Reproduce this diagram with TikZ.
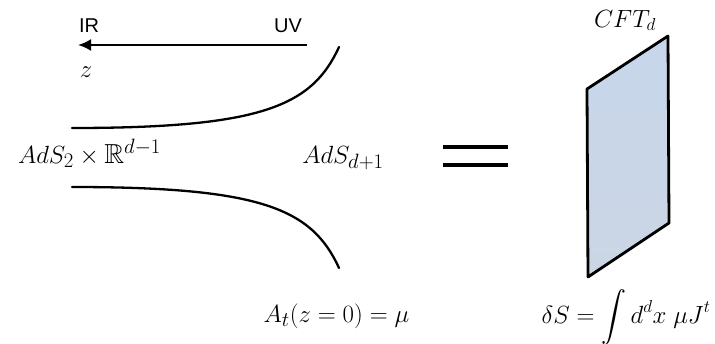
\documentclass[tikz,border=0pt]{standalone}
\usepackage{fontspec}
\usepackage{amssymb}
\newfontfamily\labelsans{Liberation Sans}
\usetikzlibrary{arrows.meta}
\definecolor{panelblue}{RGB}{199,214,234}
\definecolor{panelbluelow}{RGB}{203,214,229}
\tikzset{
  mathlabel/.style={inner sep=0pt, anchor=base},
  sanslabel/.style={inner sep=0pt, anchor=base, font=\labelsans\fontsize{20}{24}\selectfont},
  curveline/.style={line width=2.3pt, line cap=round},
  arrowline/.style={line width=2.3pt, -{Latex[length=13pt,width=12pt]}},
  eqbar/.style={line width=4pt},
  panel/.style={draw=black, line width=2.8pt, line join=round, top color=panelblue, bottom color=panelbluelow}
}
\begin{document}
\begin{tikzpicture}[x=1pt,y=-1pt]
\useasboundingbox (0,0) rectangle (715,343);
% arrow IR <- UV
\coordinate (uv) at (307,45);
\coordinate (ir) at (78,45);
\draw[arrowline] (uv) -- (ir);
\node[sanslabel] (irl) at (89,32) {IR};
\node[sanslabel] (uvl) at (288,32) {UV};
\node[mathlabel, font=\fontsize{26}{30}\selectfont] (z) at (86,77) {$z$};
% throat curves
\coordinate (u0) at (72,128);
\coordinate (u1) at (339,47);
\coordinate (l0) at (72,187);
\coordinate (l1) at (339,268);
\draw[curveline] (u0) .. controls (262,128) and (312,106) .. (u1);
\draw[curveline] (l0) .. controls (262,187) and (312,209) .. (l1);
\node[mathlabel, font=\fontsize{27.5}{32}\selectfont] (ads2) at (89.5,163) {$AdS_2\times\mathbb{R}^{d-1}$};
\node[mathlabel, font=\fontsize{29}{34}\selectfont] (adsd) at (343,163) {$AdS_{d+1}$};
% equals
\coordinate (e1a) at (443,147);
\coordinate (e1b) at (508,147);
\coordinate (e2a) at (443,165);
\coordinate (e2b) at (508,165);
\draw[eqbar] (e1a) -- (e1b);
\draw[eqbar] (e2a) -- (e2b);
% CFT panel
\coordinate (p1) at (587,89);
\coordinate (p2) at (668,36);
\coordinate (p3) at (669,223);
\coordinate (p4) at (588,277);
\draw[panel] (p1) -- (p2) -- (p3) -- (p4) -- cycle;
\node[mathlabel, font=\fontsize{25}{30}\selectfont] (cft) at (625,27) {$CFT_d$};
% bottom labels
\node[mathlabel, font=\fontsize{30}{36}\selectfont] (at) at (336.5,322) {$A_t(z=0)=\mu$};
\node[mathlabel, font=\fontsize{25}{30}\selectfont] (ds) at (626,323) {$\delta S=\displaystyle\int d^dx\;\mu J^t$};
\end{tikzpicture}
\end{document}
